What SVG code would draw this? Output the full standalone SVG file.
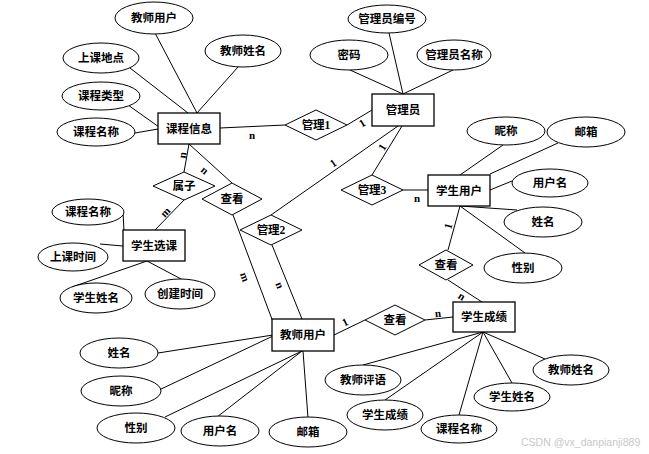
<svg xmlns="http://www.w3.org/2000/svg" width="649" height="454" viewBox="0 0 649 454">
<style>
.e{fill:#fff;stroke:#000;stroke-width:1}
.r{fill:#fff;stroke:#000;stroke-width:1.3}
.d{fill:#fff;stroke:#000;stroke-width:1}
.t{font-family:"Liberation Serif","Noto Sans CJK SC",serif;font-size:11.5px;font-weight:bold;text-anchor:middle;dominant-baseline:central;fill:#000}
.c line{stroke:#000;stroke-width:1}
.l{font-family:"Liberation Serif",serif;font-size:11px;font-weight:bold;text-anchor:middle;dominant-baseline:central;fill:#000}
.w{font-family:"Liberation Sans",sans-serif;font-size:10.5px;fill:#c8c8c8}
</style>
<rect width="649" height="454" fill="#fff"/>
<g id="connectors" class="c">
<line x1="155" y1="33" x2="197" y2="113"/>
<line x1="238" y1="67" x2="197" y2="113"/>
<line x1="130" y1="68" x2="188" y2="113"/>
<line x1="128" y1="105" x2="159" y2="127"/>
<line x1="135" y1="133" x2="158" y2="129"/>
<line x1="220" y1="128" x2="285" y2="125"/>
<line x1="347" y1="125" x2="372" y2="110"/>
<line x1="389" y1="33" x2="403" y2="94"/>
<line x1="350" y1="70" x2="403" y2="94"/>
<line x1="453" y1="70" x2="403" y2="94"/>
<line x1="402" y1="126" x2="372" y2="175"/>
<line x1="398" y1="126" x2="271" y2="215"/>
<line x1="403" y1="190" x2="428" y2="190"/>
<line x1="503" y1="145" x2="460" y2="175"/>
<line x1="558" y1="143" x2="490" y2="174"/>
<line x1="512" y1="181" x2="490" y2="190"/>
<line x1="517" y1="210" x2="460" y2="206"/>
<line x1="525" y1="253" x2="460" y2="206"/>
<line x1="460" y1="206" x2="448" y2="250"/>
<line x1="448" y1="280" x2="482" y2="302"/>
<line x1="189" y1="144" x2="184" y2="172"/>
<line x1="189" y1="144" x2="232" y2="183"/>
<line x1="184" y1="200" x2="155" y2="230"/>
<line x1="123" y1="212" x2="124" y2="231"/>
<line x1="100" y1="244" x2="123" y2="246"/>
<line x1="147" y1="261" x2="72" y2="287"/>
<line x1="147" y1="261" x2="183" y2="280"/>
<line x1="233" y1="215" x2="273" y2="322"/>
<line x1="272" y1="245" x2="302" y2="319"/>
<line x1="158" y1="353" x2="273" y2="335"/>
<line x1="159" y1="390" x2="273" y2="336"/>
<line x1="165" y1="417" x2="302" y2="351"/>
<line x1="217" y1="417" x2="302" y2="351"/>
<line x1="308" y1="418" x2="303" y2="351"/>
<line x1="334" y1="335" x2="365" y2="320"/>
<line x1="425" y1="320" x2="453" y2="317"/>
<line x1="483" y1="332" x2="363" y2="365"/>
<line x1="483" y1="332" x2="385" y2="400"/>
<line x1="483" y1="332" x2="459" y2="415"/>
<line x1="483" y1="332" x2="512" y2="383"/>
<line x1="483" y1="332" x2="545" y2="359"/>
</g>
<g id="cardinalities">
<text class="l" x="252" y="135">n</text>
<text class="l" x="362" y="123" transform="rotate(-31 362 123)">1</text>
<text class="l" x="382" y="147" transform="rotate(-59 382 147)">1</text>
<text class="l" x="333" y="163" transform="rotate(-34.5 333 163)">1</text>
<text class="l" x="417" y="198">n</text>
<text class="l" x="448" y="226" transform="rotate(-74 448 226)">1</text>
<text class="l" x="462" y="296" transform="rotate(32 462 296)">n</text>
<text class="l" x="182" y="155" transform="rotate(-80 182 155)">n</text>
<text class="l" x="205" y="170" transform="rotate(41.5 205 170)">n</text>
<text class="l" x="165" y="212" transform="rotate(-46 165 212)">m</text>
<text class="l" x="245" y="277" transform="rotate(69.5 245 277)">m</text>
<text class="l" x="280" y="285" transform="rotate(68 280 285)">n</text>
<text class="l" x="345" y="322" transform="rotate(-26.6 345 322)">1</text>
<text class="l" x="438" y="313" transform="rotate(-6 438 313)">n</text>
</g>
<g id="kcxx"><rect class="r" x="158" y="113" width="62" height="31"/><text class="t" x="189" y="128.5">课程信息</text></g>
<g id="gly"><rect class="r" x="372" y="94" width="62" height="32"/><text class="t" x="403" y="110">管理员</text></g>
<g id="xsyh"><rect class="r" x="428" y="175" width="62" height="31"/><text class="t" x="459" y="190.5">学生用户</text></g>
<g id="xsxk"><rect class="r" x="123" y="230" width="62" height="31"/><text class="t" x="154" y="245.5">学生选课</text></g>
<g id="jsyh"><rect class="r" x="272" y="319" width="62" height="32"/><text class="t" x="303" y="335">教师用户</text></g>
<g id="xscj"><rect class="r" x="453" y="302" width="62" height="30"/><text class="t" x="484" y="317">学生成绩</text></g>
<g id="gl1"><polygon class="d" points="285,125 316,110 347,125 316,140"/><text class="t" x="316" y="125">管理1</text></g>
<g id="gl3"><polygon class="d" points="341,190 372,175 403,190 372,205"/><text class="t" x="372" y="190">管理3</text></g>
<g id="ck3"><polygon class="d" points="419,265 446,250 473,265 446,280"/><text class="t" x="446" y="265">查看</text></g>
<g id="sz"><polygon class="d" points="153,186 184,172 215,186 184,200"/><text class="t" x="184" y="186">属子</text></g>
<g id="ck1"><polygon class="d" points="202,199 232,183 262,199 232,215"/><text class="t" x="232" y="199">查看</text></g>
<g id="gl2"><polygon class="d" points="240,230 271,215 302,230 271,245"/><text class="t" x="271" y="230">管理2</text></g>
<g id="ck2"><polygon class="d" points="365,320 395,305 425,320 395,335"/><text class="t" x="395" y="320">查看</text></g>
<g id="a1"><ellipse class="e" cx="154" cy="18" rx="39" ry="16"/><text class="t" x="154" y="18">教师用户</text></g>
<g id="a2"><ellipse class="e" cx="243" cy="51" rx="38" ry="16"/><text class="t" x="243" y="51">教师姓名</text></g>
<g id="a3"><ellipse class="e" cx="101" cy="58" rx="38" ry="15"/><text class="t" x="101" y="58">上课地点</text></g>
<g id="a4"><ellipse class="e" cx="101" cy="96" rx="39" ry="14"/><text class="t" x="101" y="96">课程类型</text></g>
<g id="a5"><ellipse class="e" cx="96" cy="132" rx="39" ry="14"/><text class="t" x="96" y="132">课程名称</text></g>
<g id="a6"><ellipse class="e" cx="387" cy="19" rx="39" ry="14"/><text class="t" x="387" y="19">管理员编号</text></g>
<g id="a7"><ellipse class="e" cx="349" cy="55" rx="39" ry="15"/><text class="t" x="349" y="55">密码</text></g>
<g id="a8"><ellipse class="e" cx="454" cy="55" rx="37" ry="15"/><text class="t" x="454" y="55">管理员名称</text></g>
<g id="a9"><ellipse class="e" cx="506" cy="131" rx="39" ry="14"/><text class="t" x="506" y="131">昵称</text></g>
<g id="a10"><ellipse class="e" cx="586" cy="132" rx="39" ry="15"/><text class="t" x="586" y="132">邮箱</text></g>
<g id="a11"><ellipse class="e" cx="550" cy="183" rx="38" ry="14"/><text class="t" x="550" y="183">用户名</text></g>
<g id="a12"><ellipse class="e" cx="543" cy="222" rx="39" ry="15"/><text class="t" x="543" y="222">姓名</text></g>
<g id="a13"><ellipse class="e" cx="523" cy="268" rx="39" ry="15"/><text class="t" x="523" y="268">性别</text></g>
<g id="a14"><ellipse class="e" cx="88" cy="212" rx="36" ry="13"/><text class="t" x="88" y="212">课程名称</text></g>
<g id="a15"><ellipse class="e" cx="73" cy="257" rx="35" ry="14"/><text class="t" x="73" y="257">上课时间</text></g>
<g id="a16"><ellipse class="e" cx="96" cy="298" rx="36" ry="15"/><text class="t" x="96" y="298">学生姓名</text></g>
<g id="a17"><ellipse class="e" cx="180" cy="294" rx="35" ry="15"/><text class="t" x="180" y="294">创建时间</text></g>
<g id="a18"><ellipse class="e" cx="119" cy="353" rx="39" ry="15"/><text class="t" x="119" y="353">姓名</text></g>
<g id="a19"><ellipse class="e" cx="121" cy="391" rx="40" ry="15"/><text class="t" x="121" y="391">昵称</text></g>
<g id="a20"><ellipse class="e" cx="136" cy="428" rx="39" ry="15"/><text class="t" x="136" y="428">性别</text></g>
<g id="a21"><ellipse class="e" cx="220" cy="431" rx="39" ry="15"/><text class="t" x="220" y="431">用户名</text></g>
<g id="a22"><ellipse class="e" cx="308" cy="432" rx="39" ry="15"/><text class="t" x="308" y="432">邮箱</text></g>
<g id="a23"><ellipse class="e" cx="363" cy="380" rx="38" ry="15"/><text class="t" x="363" y="380">教师评语</text></g>
<g id="a24"><ellipse class="e" cx="385" cy="415" rx="38" ry="15"/><text class="t" x="385" y="415">学生成绩</text></g>
<g id="a25"><ellipse class="e" cx="459" cy="429" rx="38" ry="14"/><text class="t" x="459" y="429">课程名称</text></g>
<g id="a26"><ellipse class="e" cx="512" cy="397" rx="38" ry="14"/><text class="t" x="512" y="397">学生姓名</text></g>
<g id="a27"><ellipse class="e" cx="571" cy="370" rx="38" ry="15"/><text class="t" x="571" y="370">教师姓名</text></g>
<text class="w" x="521" y="446">CSDN @vx_danpianji889</text>
</svg>
